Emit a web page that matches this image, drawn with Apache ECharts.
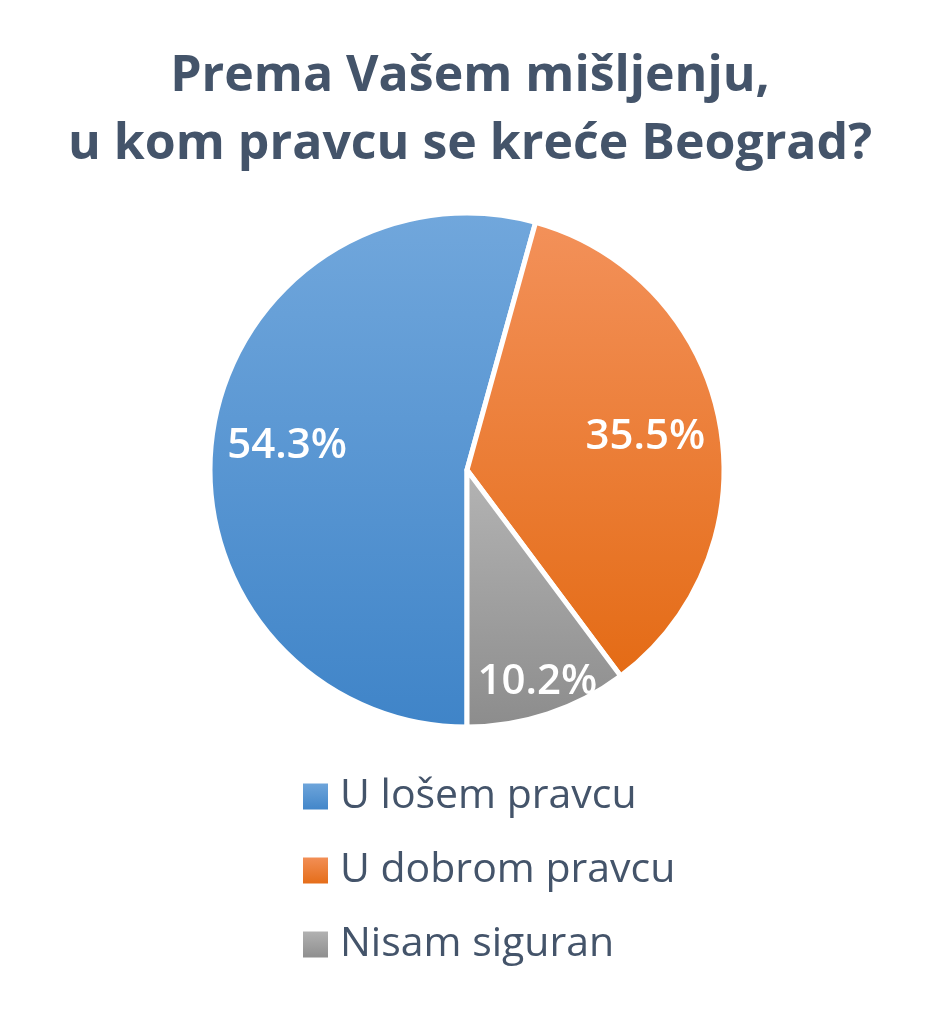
<!DOCTYPE html>
<html>
<head>
<meta charset="utf-8">
<script src="https://cdn.jsdelivr.net/npm/echarts@6/dist/echarts.min.js"></script>
<style>
html,body{margin:0;padding:0;background:#fff;}
#chart{width:940px;height:1011px;}
</style>
</head>
<body>
<div id="chart"></div>
<script>
const titleLines = ['Prema Vašem mišljenju,', 'u kom pravcu se kreće Beograd?'];
const categories = ['U lošem pravcu', 'U dobrom pravcu', 'Nisam siguran'];
const values = [54.3, 35.5, 10.2];
const topColors = ['#71A7DC', '#F3915A', '#B4B4B4'];
const bottomColors = ['#3F84C8', '#E46B15', '#8C8C8C'];
const labelRadiusFactor = [1.38, 1.38, 1.7];

const cx = 467, cy = 470, R = 257;

function grad(i){
  return new echarts.graphic.LinearGradient(0,0,0,1,[
    {offset:0,color:topColors[i]},{offset:1,color:bottomColors[i]}]);
}

const chart = echarts.init(document.getElementById('chart'));
chart.setOption({
  backgroundColor:'#fff',
  title:{
    text: titleLines.join('\n'),
    left:'center', top:38,
    textStyle:{fontFamily:'Open Sans', fontWeight:'bold', fontSize:50, color:'#44546A', lineHeight:68}
  },
  legend:{
    orient:'vertical', left:296, top:771,
    itemWidth:27, itemHeight:28, itemGap:33,
    icon:'rect',
    textStyle:{fontFamily:'Open Sans', fontSize:41, color:'#44546A', padding:[0,0,0,6]},
    data: categories
  },
  series:[{
    type:'pie',
    center:[cx, cy],
    radius:[0, R],
    startAngle:-90,
    clockwise:true,
    silent:true,
    animation:false,
    itemStyle:{borderColor:'#fff', borderWidth:5},
    label:{
      show:true, position:'inside',
      formatter:p=>p.value.toFixed(1)+'%',
      fontFamily:'Open Sans', fontSize:42, fontWeight:600, color:'#fff'
    },
    labelLayout:function(p){
      const r = p.labelRect;
      const lx = r.x + r.width/2, ly = r.y + r.height/2;
      const f = labelRadiusFactor[p.dataIndex];
      return {dx:(lx-cx)*(f-1), dy:(ly-cy)*(f-1)};
    },
    data: categories.map((c,i)=>({name:c, value:values[i], itemStyle:{color:grad(i)}}))
  }]
});
</script>
</body>
</html>
